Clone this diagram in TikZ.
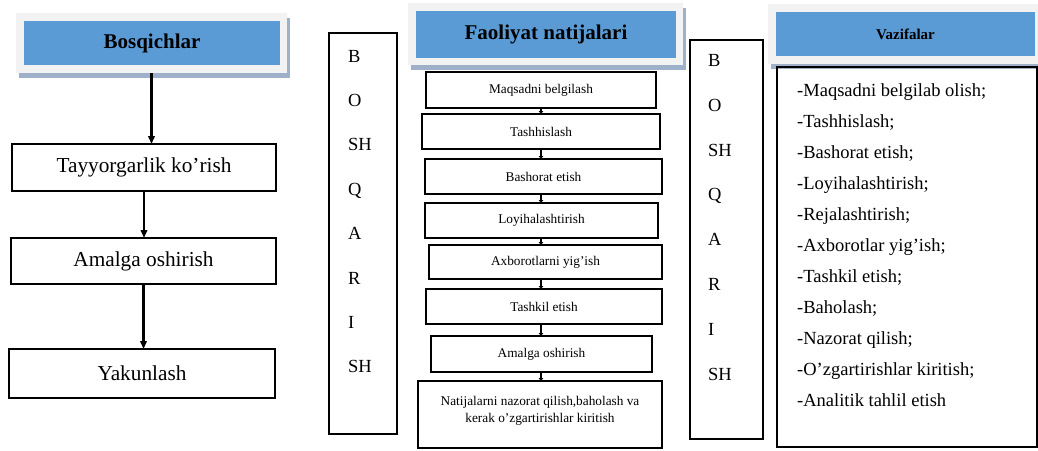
\documentclass[tikz,border=0pt]{standalone}
\usepackage{fontspec}
\setmainfont{Liberation Serif}
\usepackage{tikz}
\usetikzlibrary{arrows.meta,shadows}
\definecolor{hdrblue}{RGB}{91,155,213}
\definecolor{hdrgray}{RGB}{242,242,242}
\definecolor{hdrshade}{RGB}{158,176,202}
\tikzset{
  hdrframe/.style={fill=hdrgray, inner sep=0pt, outer sep=0pt, general shadow={fill=hdrshade, shadow xshift=3pt, shadow yshift=-5pt}},
  hdrtitle/.style={fill=hdrblue, inner sep=0pt, outer sep=0pt, font=\bfseries\fontsize{21}{25}\selectfont},
  stagebox/.style={draw, line width=1.8pt, inner sep=0pt, outer sep=0pt, font=\fontsize{21.3}{25}\selectfont},
  taskbox/.style={draw, line width=1.8pt, inner sep=0pt, outer sep=0pt, align=center, font=\fontsize{13.3}{17}\selectfont},
  tallbox/.style={draw, line width=1.6pt, inner sep=0pt, outer sep=0pt},
  letter/.style={anchor=base west, inner sep=0pt, font=\fontsize{18.5}{22}\selectfont},
  bigarrow/.style={line width=2.4pt, -{Triangle[length=8pt,width=6.5pt]}},
  tinyarrow/.style={line width=1.8pt, -{Triangle[length=3pt,width=4.5pt]}}
}
\newcommand{\letterstack}[4]{
    \foreach \ch [count=\i] in {B,O,SH,Q,A,R,I,SH}{
    \node[letter] (#1-\i) at (#2,{#3+(\i-1)*#4}) {\ch};
    }
}
\begin{document}
\begin{tikzpicture}[x=1pt,y=-1pt]
\useasboundingbox (0,0) rectangle (1038,450);
\node[hdrframe, minimum width=271pt, minimum height=60pt] (bosqF) at (151.5,43) {};
\node[hdrtitle, minimum width=256pt, minimum height=44pt] (bosq) at (152,43) {Bosqichlar};
\node[stagebox, minimum width=264pt, minimum height=47pt] (tayyor) at (144,167.5) {Tayyorgarlik ko'rish};
\node[stagebox, minimum width=265pt, minimum height=46pt] (amalga) at (143.5,261) {Amalga oshirish};
\node[stagebox, minimum width=266pt, minimum height=49pt] (yakun) at (142,373.5) {Yakunlash};
\draw[bigarrow] (bosqF.south) -- (bosqF.south |- tayyor.north);
\draw[bigarrow] (tayyor.south) -- (tayyor.south |- amalga.north);
\draw[bigarrow] (amalga.south) -- (amalga.south |- yakun.north);
\node[tallbox, minimum width=68pt, minimum height=401pt] (boshL) at (363,233.5) {};
\letterstack{bl}{348}{62}{44.4}
\node[hdrframe, minimum width=275pt, minimum height=62pt] (faolF) at (545.5,34) {};
\node[hdrtitle, minimum width=260pt, minimum height=47pt] (faol) at (546,34.5) {Faoliyat natijalari};
\node[taskbox, minimum width=230pt, minimum height=36pt] (m1) at (541,90) {Maqsadni belgilash};
\node[taskbox, minimum width=238pt, minimum height=35pt] (m2) at (541,131.5) {Tashhislash};
\node[taskbox, minimum width=237pt, minimum height=35pt] (m3) at (543.5,176.5) {Bashorat etish};
\node[taskbox, minimum width=233pt, minimum height=35pt] (m4) at (541.5,220.5) {Loyihalashtirish};
\node[taskbox, minimum width=233pt, minimum height=34pt] (m5) at (545.5,262) {Axborotlarni yig'ish};
\node[taskbox, minimum width=236pt, minimum height=35pt] (m6) at (544,306.5) {Tashkil etish};
\node[taskbox, minimum width=221pt, minimum height=36pt] (m7) at (541.5,354) {Amalga oshirish};
\node[taskbox, minimum width=244pt, minimum height=67pt] (m8) at (540,414.5) {Natijalarni nazorat qilish,baholash va\\kerak o'zgartirishlar kiritish\\[-11pt]\strut};
\coordinate (axis) at (541,0);
\foreach \a/\b in {m1/m2,m2/m3,m3/m4,m4/m5,m5/m6,m6/m7,m7/m8}{
    \draw[tinyarrow] (\a.south -| axis) -- (\b.north -| axis);
}
\node[tallbox, minimum width=73pt, minimum height=399pt] (boshR) at (726.5,239.5) {};
\letterstack{br}{708}{66.5}{44.8}
\node[hdrframe, minimum width=274pt, minimum height=60pt] (vazF) at (905,33.5) {};
\node[hdrtitle, font=\bfseries\fontsize{15}{18}\selectfont, minimum width=259pt, minimum height=44pt] (vaz) at (905.5,34) {Vazifalar};
\node[tallbox, minimum width=260pt, minimum height=380pt] (vazbox) at (907,257) {};
\foreach \t [count=\i] in {-Maqsadni belgilab olish;,-Tashhislash;,-Bashorat etish;,-Loyihalashtirish;,-Rejalashtirish;,-Axborotlar yig'ish;,-Tashkil etish;,-Baholash;,-Nazorat qilish;,-O'zgartirishlar kiritish;,-Analitik tahlil etish}{
    \node[letter] (v\i) at (797,{96+(\i-1)*31}) {\t};
}
\end{tikzpicture}
\end{document}
